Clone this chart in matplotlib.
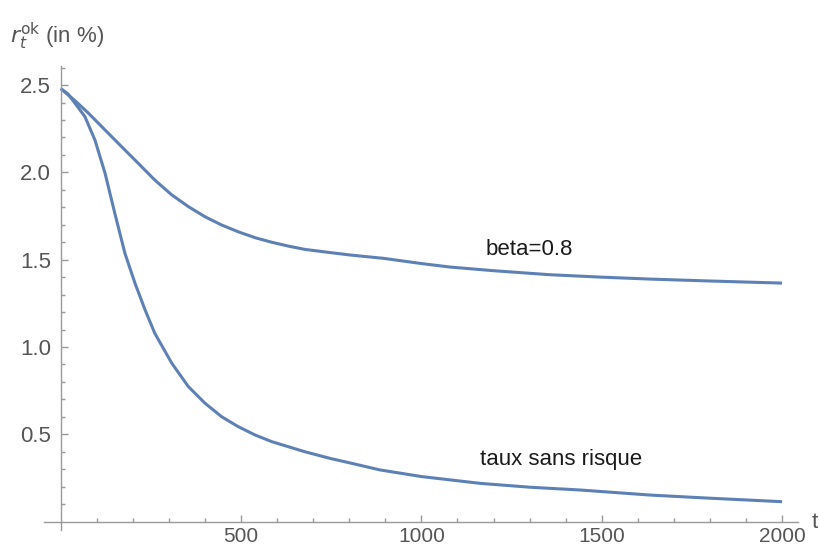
import matplotlib
matplotlib.use("Agg")
import matplotlib.pyplot as plt

# data
t_beta = [0, 40, 77, 123, 169, 215, 261, 308, 354, 400, 446, 492, 539, 585, 631, 677, 750, 802, 894, 1000, 1079, 1200, 1356, 1500, 1634, 1800, 2000]
r_beta = [2.48, 2.41, 2.339, 2.243, 2.147, 2.052, 1.956, 1.871, 1.804, 1.746, 1.699, 1.660, 1.626, 1.600, 1.578, 1.559, 1.540, 1.527, 1.508, 1.478, 1.458, 1.437, 1.414, 1.400, 1.389, 1.378, 1.366]

t_taux = [0, 20, 40, 67, 95, 123, 150, 178, 206, 234, 261, 308, 354, 400, 446, 492, 539, 585, 631, 677, 747, 800, 885, 1000, 1163, 1300, 1440, 1634, 1800, 2000]
r_taux = [2.48, 2.45, 2.395, 2.32, 2.185, 1.995, 1.766, 1.537, 1.365, 1.212, 1.078, 0.907, 0.773, 0.678, 0.601, 0.544, 0.496, 0.458, 0.429, 0.400, 0.362, 0.337, 0.296, 0.258, 0.219, 0.197, 0.181, 0.152, 0.134, 0.114]

x_major = [500, 1000, 1500, 2000]
y_major = [0.5, 1.0, 1.5, 2.0, 2.5]
y_major_labels = ['0.5', '1.0', '1.5', '2.0', '2.5']

label_beta = "beta=0.8"
label_taux = "taux sans risque"

plt.rcParams['font.family'] = ['Liberation Sans', 'DejaVu Sans']

fig = plt.figure(figsize=(8.2, 5.49), dpi=100)
x0, x1 = -45, 2044
y0, y1 = -0.05, 2.61
sx = 0.3607  # px per unit x
sy = 174.6   # px per unit y
left_px = 60.7 + x0 * sx
right_px = 60.7 + x1 * sx
bottom_px = 521.6 - y0 * sy
top_px = 521.6 - y1 * sy
W, H = 820, 549
ax = fig.add_axes([left_px / W, (H - bottom_px) / H, (right_px - left_px) / W, (bottom_px - top_px) / H])

col = '#5E81B5'
ax.plot(t_beta, r_beta, color=col, lw=2.2, solid_capstyle='butt', solid_joinstyle='round')
ax.plot(t_taux, r_taux, color=col, lw=2.2, solid_capstyle='butt', solid_joinstyle='round')

ax.set_xlim(x0, x1)
ax.set_ylim(y0, y1)

for s in ['top', 'right']:
    ax.spines[s].set_visible(False)
ax.spines['left'].set_position(('data', 0))
ax.spines['bottom'].set_position(('data', 0))
for s in ['left', 'bottom']:
    ax.spines[s].set_color('#999999')
    ax.spines[s].set_linewidth(1.0)

ax.set_xticks(x_major)
ax.set_xticks([v for v in range(100, 2001, 100) if v % 500 != 0], minor=True)
ax.set_yticks(y_major)
ax.set_yticks([round(v * 0.1, 1) for v in range(1, 27) if v % 5 != 0], minor=True)
ax.set_yticklabels(y_major_labels)

ax.tick_params(axis='both', which='major', direction='in', length=5, width=1, color='#999999',
               labelcolor='#555555')
ax.tick_params(axis='both', which='minor', direction='in', length=3, width=1, color='#999999')
ax.tick_params(axis='x', which='major', pad=4, labelsize=15)
ax.tick_params(axis='y', which='major', pad=7, labelsize=16)

ax.text(1298, 1.556, label_beta, fontsize=16, color='#1a1a1a', ha='center', va='center')
ax.text(1386, 0.353, label_taux, fontsize=16, color='#1a1a1a', ha='center', va='center')

fig.text(10 / W, 1 - 36 / H, r"$r_t^{\mathrm{ok}}$ (in %)", fontsize=16, color='#555555', va='center', ha='left')
fig.text(812 / W, 1 - 522 / H, "t", fontsize=16, color='#555555', va='center', ha='left')

fig.savefig("out.png", dpi=100, facecolor='white')
